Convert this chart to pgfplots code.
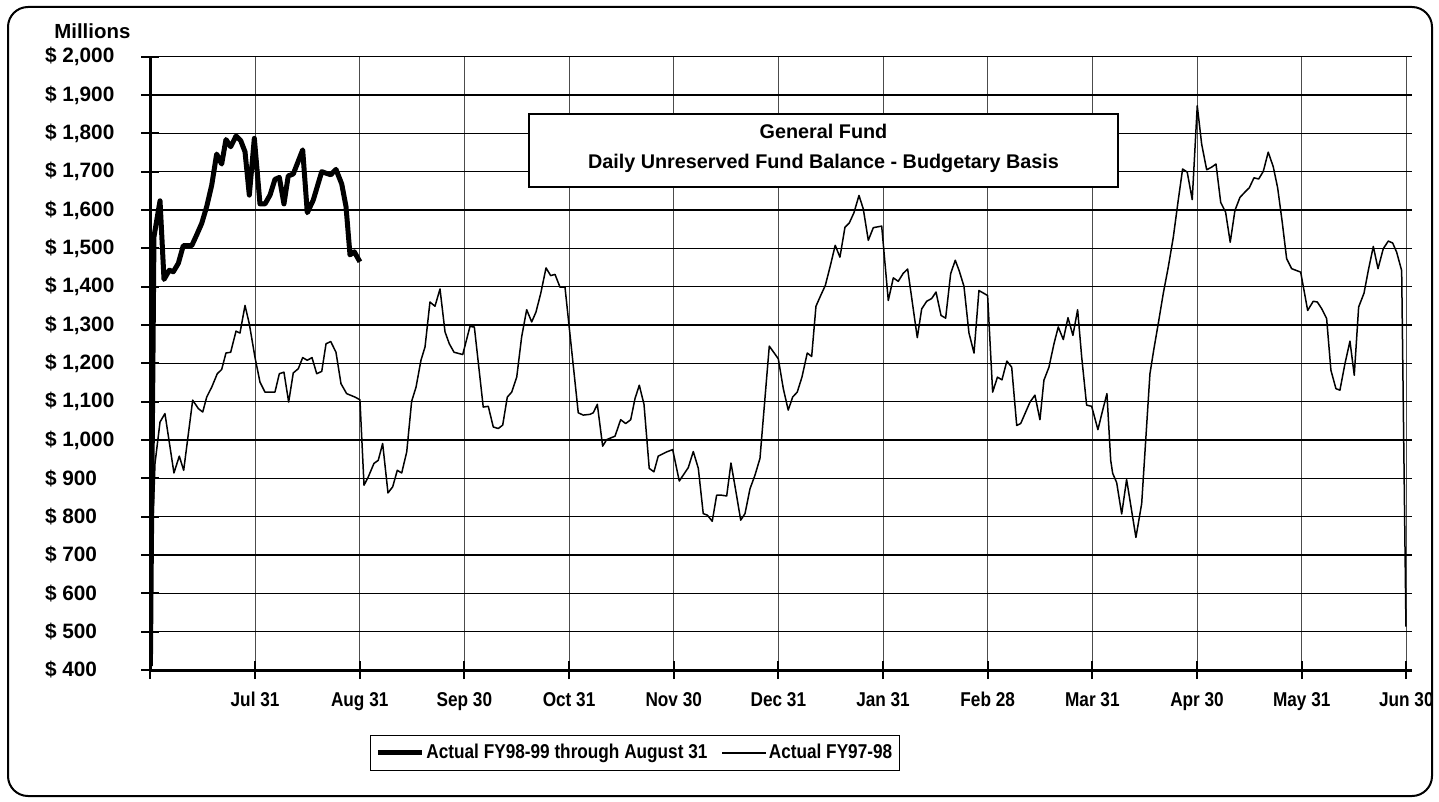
\documentclass[border=0pt]{standalone}
\usepackage{pgfplots}
\pgfplotsset{compat=1.18}
\usepackage{fontspec}
\setmainfont{Liberation Sans}
\newfontfamily\narrowfont{Liberation Sans}[FakeStretch=0.86]

\begin{document}
\begin{tikzpicture}
\useasboundingbox (0,0) rectangle (719.5pt,-401pt);
\begin{axis}[
  at={(75.2pt,-335pt)}, anchor=south west,
  scale only axis, width=630.6pt, height=306.65pt,
  xmin=0, xmax=12.05, ymin=400, ymax=2000,
  axis x line=bottom, axis y line=left,
  axis line style={-, line width=1.5pt, black},
  xtick={0,1,...,12},
  xticklabels={,Jul 31,Aug 31,Sep 30,Oct 31,Nov 30,Dec 31,Jan 31,Feb 28,Mar 31,Apr 30,May 31,Jun 30},
  ytick={400,500,...,2000},
  tick align=center, major tick length=9pt,
  tick style={line width=1pt, black},
  grid=major,
  x grid style={line width=0.5pt, black!70},
  y grid style={line width=0.75pt, black},
  /pgf/number format/.cd, fixed, precision=0, 1000 sep={,}, assume math mode=true,
  /pgfplots/.cd,
  yticklabel={\$ \pgfmathprintnumber{\tick}},
  yticklabel style={anchor=west, inner sep=0pt, xshift=-48.4pt, font=\fontsize{10.4}{12}\selectfont\bfseries},
  xticklabel style={anchor=north, inner sep=0pt, text height=7.4pt, text depth=0pt, yshift=-6pt, font=\narrowfont\bfseries\fontsize{10}{12}\selectfont},
  legend style={at={(0.174,-0.106)}, anchor=north west, draw=black, line width=0.6pt,
    inner xsep=2.5pt, inner ysep=3.3pt, legend columns=2,
    font=\narrowfont\bfseries\fontsize{10}{12}\selectfont,
    /tikz/every even column/.append style={column sep=6pt},
    nodes={inner sep=1pt, anchor=west}},
  legend cell align=left,
  legend image code/.code={\draw[#1] (0pt,0pt) -- (22pt,0pt);},
]
\addplot[black, line width=2.5pt, line join=round] coordinates {
(0.000,410) (0.034,1530) (0.092,1624) (0.130,1419) (0.181,1443) (0.219,1439)
(0.267,1461) (0.314,1507) (0.395,1507) (0.442,1535) (0.490,1565) (0.538,1609)
(0.586,1665) (0.633,1746) (0.681,1720) (0.722,1784) (0.767,1765) (0.818,1793)
(0.863,1781) (0.904,1752) (0.945,1639) (0.993,1787) (1.047,1616) (1.095,1616)
(1.143,1639) (1.190,1680) (1.232,1685) (1.276,1616) (1.317,1689) (1.365,1694)
(1.455,1757) (1.499,1593) (1.556,1626) (1.637,1700) (1.723,1692) (1.773,1706)
(1.828,1668) (1.869,1609) (1.907,1483) (1.948,1491) (2.002,1465)
};
\addlegendentry{Actual FY98-99 through August 31}
\addplot[black, line width=0.75pt, line join=round] coordinates {
(0.000,600) (0.044,939) (0.092,1047) (0.139,1069) (0.225,914) (0.276,958)
(0.318,921) (0.404,1104) (0.458,1082) (0.500,1073) (0.538,1112) (0.586,1138)
(0.639,1173) (0.681,1184) (0.722,1227) (0.767,1229) (0.818,1284) (0.856,1279)
(0.904,1351) (0.945,1303) (0.999,1216) (1.047,1151) (1.095,1125) (1.190,1125)
(1.232,1173) (1.276,1177) (1.321,1099) (1.365,1175) (1.413,1186) (1.455,1215)
(1.499,1208) (1.544,1215) (1.589,1173) (1.637,1179) (1.678,1251) (1.723,1257)
(1.773,1229) (1.821,1147) (1.875,1121) (1.955,1112) (2.002,1105) (2.041,882)
(2.082,904) (2.136,939) (2.177,947) (2.219,991) (2.270,862) (2.315,878)
(2.359,921) (2.401,914) (2.449,969) (2.496,1101) (2.538,1138) (2.585,1208)
(2.624,1243) (2.671,1360) (2.719,1349) (2.767,1394) (2.815,1282) (2.856,1251)
(2.901,1229) (2.984,1223) (3.053,1296) (3.095,1295) (3.180,1086) (3.228,1088)
(3.276,1034) (3.324,1030) (3.366,1039) (3.410,1112) (3.452,1125) (3.500,1164)
(3.547,1269) (3.595,1340) (3.643,1308) (3.684,1334) (3.729,1382) (3.780,1449)
(3.824,1429) (3.866,1432) (3.913,1399) (3.961,1399) (4.088,1071) (4.136,1065)
(4.200,1067) (4.231,1071) (4.270,1093) (4.321,984) (4.359,1001) (4.439,1010)
(4.493,1053) (4.541,1043) (4.589,1053) (4.630,1108) (4.671,1143) (4.716,1093)
(4.766,926) (4.811,917) (4.852,958) (4.933,969) (4.990,975) (5.053,893)
(5.139,928) (5.187,970) (5.235,926) (5.282,808) (5.321,804) (5.368,788)
(5.410,856) (5.458,856) (5.506,854) (5.547,940) (5.592,869) (5.640,791)
(5.681,808) (5.729,873) (5.776,908) (5.824,952) (5.913,1245) (5.999,1212)
(6.047,1134) (6.094,1078) (6.136,1112) (6.180,1125) (6.225,1164) (6.276,1227)
(6.318,1218) (6.359,1349) (6.404,1377) (6.448,1403) (6.493,1451) (6.543,1508)
(6.588,1477) (6.636,1555) (6.677,1566) (6.722,1593) (6.770,1638) (6.811,1603)
(6.859,1521) (6.907,1554) (6.987,1558) (7.050,1364) (7.098,1423) (7.145,1414)
(7.193,1435) (7.235,1446) (7.327,1267) (7.369,1342) (7.417,1362) (7.464,1369)
(7.506,1386) (7.554,1325) (7.598,1318) (7.646,1434) (7.690,1469) (7.728,1441)
(7.773,1401) (7.821,1279) (7.869,1227) (7.916,1390) (7.999,1377) (8.047,1125)
(8.093,1164) (8.136,1157) (8.183,1206) (8.229,1190) (8.277,1038) (8.315,1043)
(8.404,1099) (8.451,1117) (8.499,1053) (8.537,1156) (8.585,1190) (8.633,1251)
(8.674,1295) (8.722,1262) (8.767,1319) (8.814,1273) (8.859,1340) (8.898,1216)
(8.945,1091) (8.993,1088) (9.053,1027) (9.094,1073) (9.139,1121) (9.175,947)
(9.194,913) (9.232,889) (9.280,807) (9.327,897) (9.416,746) (9.471,834)
(9.519,1040) (9.550,1173) (9.588,1238) (9.629,1303) (9.677,1382) (9.725,1451)
(9.773,1529) (9.820,1625) (9.862,1707) (9.906,1699) (9.954,1627) (10.002,1872)
(10.044,1772) (10.092,1705) (10.140,1712) (10.181,1720) (10.226,1620) (10.273,1594)
(10.317,1516) (10.362,1599) (10.410,1633) (10.458,1647) (10.499,1658) (10.544,1684)
(10.589,1681) (10.633,1701) (10.680,1751) (10.728,1713) (10.770,1658) (10.814,1568)
(10.856,1473) (10.904,1447) (10.990,1438) (11.057,1338) (11.110,1362) (11.149,1360)
(11.190,1343) (11.238,1317) (11.279,1182) (11.327,1134) (11.365,1130) (11.413,1199)
(11.461,1258) (11.502,1169) (11.544,1347) (11.595,1383) (11.636,1442) (11.684,1505)
(11.729,1447) (11.779,1499) (11.827,1519) (11.869,1514) (11.907,1490) (11.955,1442)
(11.996,513)
};
\addlegendentry{Actual FY97-98}
\end{axis}
\begin{scope}[x=0.5pt, y=-0.5pt]
  \draw[line width=1pt, rounded corners=10pt] (8,7) rectangle (1432,796);
  \node[anchor=base west, inner sep=0pt, font=\fontsize{10.2}{12}\selectfont\bfseries] at (54,39) {Millions};
  \draw[line width=1pt, fill=white] (529,114) rectangle (1118,187);
  \node[font=\fontsize{9.9}{12}\selectfont\bfseries] at (823.5,131) {General Fund};
  \node[font=\fontsize{9.9}{12}\selectfont\bfseries] at (823.5,163.5) {Daily Unreserved Fund Balance - Budgetary Basis};
\end{scope}
\end{tikzpicture}
\end{document}
